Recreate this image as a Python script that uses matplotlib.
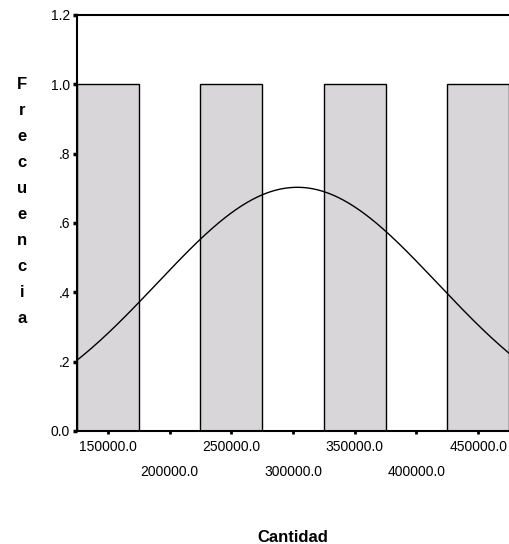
import numpy as np
import matplotlib
matplotlib.use("Agg")
import matplotlib.pyplot as plt
import matplotlib.ticker as mtick

# histogram bins (centre of each bin) and counts
bin_centers = [150000, 200000, 250000, 300000, 350000, 400000, 450000]
counts = [1, 0, 1, 0, 1, 0, 1]
bin_width = 50000

# normal curve drawn over the histogram (mean / std dev)
curve_mean = 303500
curve_std = 113500
n_cases = 4

x_title = "Cantidad"
y_title = "Frecuencia"

plt.rcParams['font.family'] = ['Liberation Sans', 'DejaVu Sans']

fig = plt.figure(figsize=(5.09, 5.44), dpi=100)
ax = fig.add_axes([77 / 509, 1 - 431 / 544, 432 / 509, 416 / 544])

ax.bar(bin_centers, counts, width=bin_width, color='#d8d6d8',
       edgecolor='black', linewidth=1.0, zorder=2)

xmin = bin_centers[0] - bin_width / 2
xmax = bin_centers[-1] + bin_width / 2
xs = np.linspace(xmin, xmax, 400)
pdf = np.exp(-0.5 * ((xs - curve_mean) / curve_std) ** 2) / (curve_std * np.sqrt(2 * np.pi))
ax.plot(xs, pdf * n_cases * bin_width, color='black', linewidth=1.0, zorder=3)

ax.set_xlim(xmin, xmax)
ax.set_ylim(0, 1.2)

# y axis ticks: 0.0, .2, .4 ... 1.2
ax.set_yticks(np.arange(0, 1.21, 0.2))
def yfmt(v, pos):
    s = f"{v:.1f}"
    return s[1:] if s.startswith("0.") and v != 0 else s
ax.yaxis.set_major_formatter(mtick.FuncFormatter(yfmt))
ax.tick_params(axis='y', direction='out', length=3, width=2.5, pad=2, labelsize=10)

# x axis labels stagger on two rows
ax.set_xticks(bin_centers[0::2])
ax.set_xticks(bin_centers[1::2], minor=True)
ax.xaxis.set_major_formatter(mtick.FuncFormatter(lambda v, p: f"{v:.1f}"))
ax.xaxis.set_minor_formatter(mtick.FuncFormatter(lambda v, p: f"{v:.1f}"))
ax.tick_params(axis='x', which='both', direction='out', length=2.5, width=2, labelsize=10)
ax.tick_params(axis='x', which='major', pad=4)
ax.tick_params(axis='x', which='minor', pad=22)

for side in ['left', 'top', 'bottom']:
    ax.spines[side].set_linewidth(1.5)
ax.spines['right'].set_visible(False)

# vertical stacked y title
for i, ch in enumerate(y_title):
    fig.text(22 / 509, 1 - (89 + i * 26) / 544, ch, ha='center', va='baseline',
             fontsize=12, fontweight='bold')

fig.text(293 / 509, 1 - 537 / 544, x_title, ha='center', va='center',
         fontsize=12, fontweight='bold')

fig.savefig("out.png", dpi=100)
